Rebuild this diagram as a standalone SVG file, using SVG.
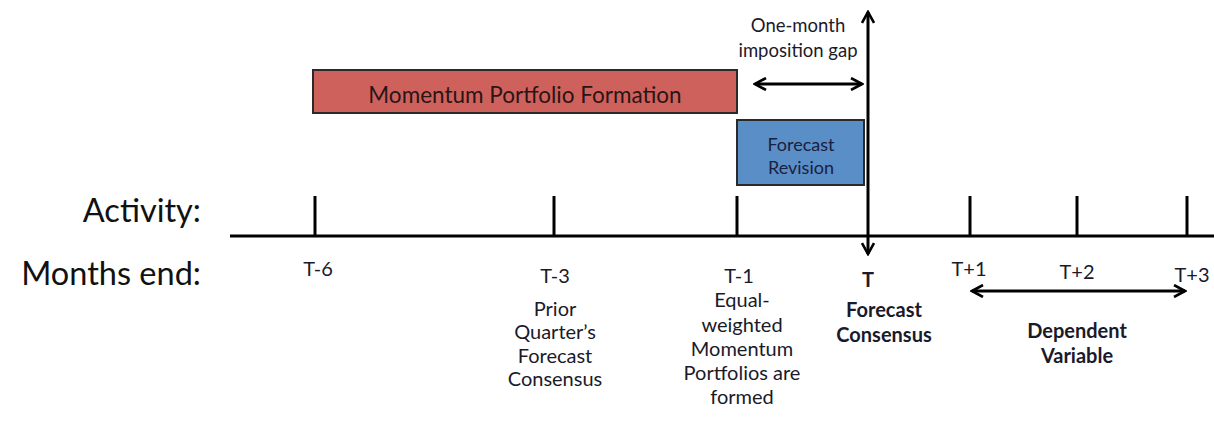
<svg xmlns="http://www.w3.org/2000/svg" width="1214" height="427" viewBox="0 0 1214 427">
<defs>
<marker id="ah2" viewBox="0 0 14 14" refX="12" refY="7" markerWidth="14" markerHeight="14" markerUnits="userSpaceOnUse" orient="auto-start-reverse">
<path d="M1,1 L12,7 L1,13" fill="none" stroke="#000" stroke-width="2.6"/>
</marker>
</defs>
<style>
text{font-family:Lato,"Open Sans","Liberation Sans",sans-serif;fill:#1a1a2a;text-anchor:middle}
.s{font-size:20px}
.b{font-size:20px;font-weight:bold}
.big{font-size:32.5px;text-anchor:end;fill:#111}
.tick{stroke:#000;stroke-width:3}
.conn{stroke:#000;stroke-width:3;fill:none}
</style>
<rect width="1214" height="427" fill="#fff"/>
<text class="big" x="201" y="222">Activity:</text>
<text class="big" x="201" y="285">Months end:</text>
<g id="axis">
<line class="conn" x1="230" y1="236" x2="1214" y2="236"/>
<line class="tick" x1="315" y1="196" x2="315" y2="236"/>
<line class="tick" x1="554" y1="196" x2="554" y2="236"/>
<line class="tick" x1="737" y1="196" x2="737" y2="236"/>
<line class="tick" x1="970" y1="196" x2="970" y2="236"/>
<line class="tick" x1="1077" y1="196" x2="1077" y2="236"/>
<line class="tick" x1="1187" y1="196" x2="1187" y2="236"/>
</g>
<g id="momentum">
<rect x="313" y="70" width="424" height="43" fill="#CF615D" stroke="#2a2a2a" stroke-width="2"/>
<text x="525" y="103" style="font-size:22.5px;fill:#2a1515">Momentum Portfolio Formation</text>
</g>
<g id="revision">
<rect x="737" y="120" width="127" height="65" fill="#5A8EC6" stroke="#2a2a2a" stroke-width="2"/>
<text class="s" x="801" y="151" style="font-size:18px;fill:#1a2040">Forecast</text>
<text class="s" x="801" y="174" style="font-size:18px;fill:#1a2040">Revision</text>
</g>
<g id="gap-label">
<text class="s" x="798" y="32" style="font-size:18.5px">One-month</text>
<text class="s" x="798" y="57" style="font-size:18.5px">imposition gap</text>
</g>
<g id="connectors">
<line class="conn" x1="868" y1="12" x2="868" y2="254" marker-start="url(#ah2)" marker-end="url(#ah2)"/>
<line class="conn" x1="755" y1="84" x2="862" y2="84" marker-start="url(#ah2)" marker-end="url(#ah2)"/>
<line class="conn" x1="972" y1="291" x2="1185" y2="291" marker-start="url(#ah2)" marker-end="url(#ah2)"/>
</g>
<g id="t-6"><text class="s" x="318" y="276">T-6</text></g>
<g id="t-3">
<text class="s" x="555" y="283">T-3</text>
<text class="s" x="555" y="316">Prior</text>
<text class="s" x="555" y="339">Quarter’s</text>
<text class="s" x="555" y="363">Forecast</text>
<text class="s" x="555" y="386">Consensus</text>
</g>
<g id="t-1">
<text class="s" x="739" y="283">T-1</text>
<text class="s" x="742" y="307">Equal-</text>
<text class="s" x="742" y="332">weighted</text>
<text class="s" x="742" y="356">Momentum</text>
<text class="s" x="742" y="380">Portfolios are</text>
<text class="s" x="742" y="404">formed</text>
</g>
<g id="t">
<text class="b" x="868" y="287">T</text>
<text class="b" x="884" y="317">Forecast</text>
<text class="b" x="884" y="342">Consensus</text>
</g>
<g id="t+1"><text class="s" x="969" y="276">T+1</text></g>
<g id="t+2"><text class="s" x="1077" y="279">T+2</text></g>
<g id="t+3"><text class="s" x="1192" y="282">T+3</text></g>
<g id="dependent">
<text class="b" x="1077" y="338">Dependent</text>
<text class="b" x="1077" y="363">Variable</text>
</g>
</svg>
